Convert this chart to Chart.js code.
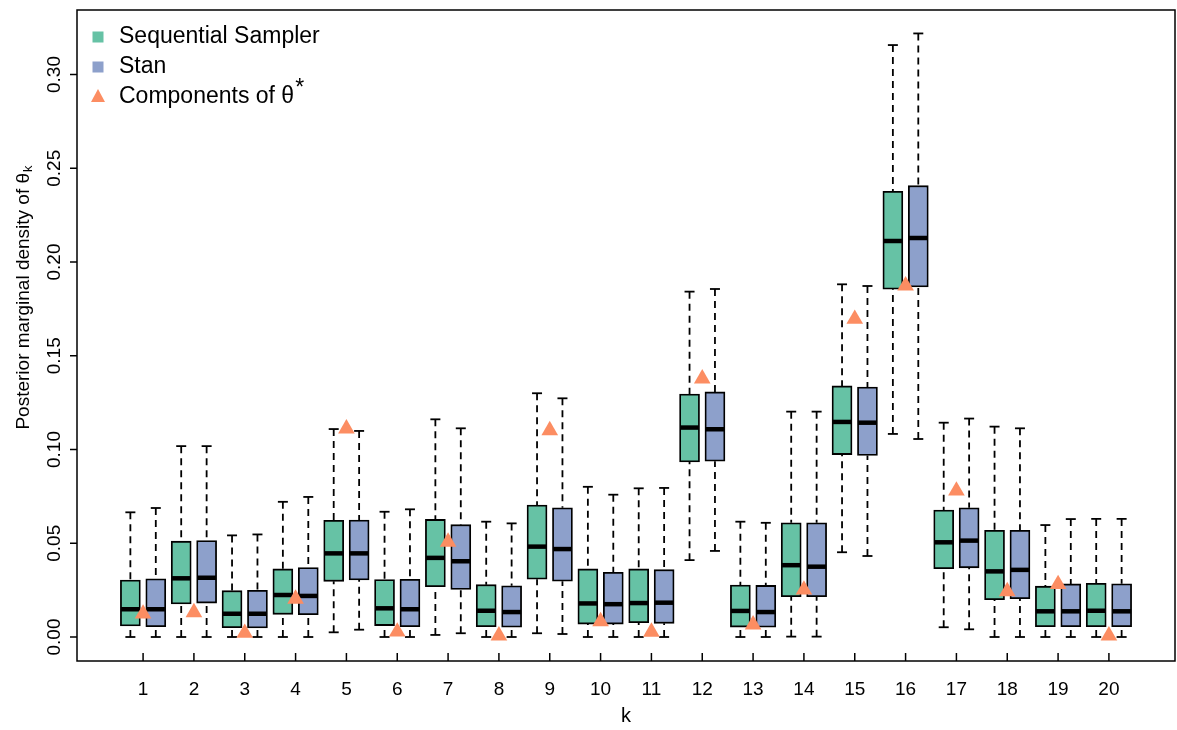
<!DOCTYPE html>
<html>
<head>
<meta charset="utf-8">
<script src="https://cdn.jsdelivr.net/npm/chart.js@4.4.1/dist/chart.umd.min.js"></script>
<style>
  html, body { margin: 0; padding: 0; background: #fff; overflow: hidden; }
  #wrap { width: 1177px; height: 730px; }
  canvas { display: block; }
</style>
</head>
<body>
<div id="wrap"><canvas id="chart" width="1177" height="730"></canvas></div>
<script>
// k = 1..20
const kValues = [1, 2, 3, 4, 5, 6, 7, 8, 9, 10, 11, 12, 13, 14, 15, 16, 17, 18, 19, 20];
const yTicks = [0, 0.05, 0.1, 0.15, 0.2, 0.25, 0.3];

// Sequential Sampler box stats
const seqLow  = [0, 0, 0, 0, 0.0025, 0, 0.0011, 0, 0.002, 0, 0, 0.041, 0, 0.0002, 0.0452, 0.1083, 0.0052, 0, 0, 0];
const seqQ1   = [0.0059, 0.0176, 0.005, 0.0121, 0.0297, 0.0061, 0.0268, 0.0055, 0.0308, 0.0069, 0.0076, 0.0934, 0.0053, 0.0215, 0.0973, 0.1855, 0.0364, 0.0199, 0.0055, 0.0055];
const seqMed  = [0.0148, 0.0313, 0.0124, 0.0224, 0.0446, 0.0153, 0.0422, 0.014, 0.0482, 0.0179, 0.0181, 0.1117, 0.0139, 0.0383, 0.1147, 0.2112, 0.0505, 0.035, 0.0137, 0.014];
const seqQ3   = [0.0304, 0.0511, 0.0247, 0.0363, 0.0622, 0.0306, 0.0627, 0.0279, 0.0704, 0.0363, 0.0363, 0.1296, 0.0277, 0.0609, 0.1339, 0.2377, 0.0677, 0.0569, 0.0271, 0.0286];
const seqHigh = [0.0665, 0.1018, 0.0542, 0.0721, 0.1109, 0.0668, 0.1161, 0.0615, 0.13, 0.0801, 0.0793, 0.1842, 0.0615, 0.1202, 0.1881, 0.3157, 0.1143, 0.1122, 0.0597, 0.063];

// Stan box stats
const stanLow  = [0, 0, 0, 0, 0.0039, 0, 0.002, 0, 0.0016, 0, 0, 0.0459, 0, 0.0002, 0.0432, 0.1056, 0.0041, 0, 0, 0];
const stanQ1   = [0.0055, 0.0181, 0.0048, 0.0119, 0.0304, 0.0055, 0.0254, 0.0052, 0.0298, 0.0069, 0.0073, 0.0938, 0.0052, 0.0215, 0.0968, 0.1867, 0.0369, 0.0204, 0.0055, 0.0055];
const stanMed  = [0.0148, 0.0316, 0.0124, 0.0219, 0.0446, 0.0148, 0.0404, 0.0133, 0.0469, 0.0175, 0.0183, 0.1108, 0.0133, 0.0375, 0.1143, 0.2128, 0.0514, 0.0358, 0.0137, 0.0137];
const stanQ3   = [0.031, 0.0514, 0.0249, 0.037, 0.0624, 0.0308, 0.0599, 0.0273, 0.0689, 0.0345, 0.0359, 0.1307, 0.0275, 0.0609, 0.1333, 0.2407, 0.0689, 0.0569, 0.0283, 0.0284];
const stanHigh = [0.0688, 0.1018, 0.0547, 0.0747, 0.1099, 0.0681, 0.1113, 0.0606, 0.1273, 0.0759, 0.0795, 0.1856, 0.0609, 0.1202, 0.1872, 0.3219, 0.1165, 0.1113, 0.0629, 0.063];

// true components theta*
const thetaStar = [0.0124, 0.0131, 0.0021, 0.0203, 0.1111, 0.0028, 0.0507, 0.0007, 0.1102, 0.0083, 0.0027, 0.1378, 0.0066, 0.0252, 0.1696, 0.1874, 0.078, 0.0243, 0.0281, 0.0007];

const GREEN = "#66C2A5";
const BLUE = "#8DA0CB";
const ORANGE = "#FC8D62";
const FONT = "'Liberation Sans', Arial, sans-serif";
const OFFSET = 0.25;

const series = [
  { label: "Sequential Sampler", color: GREEN, shift: -OFFSET, low: seqLow, q1: seqQ1, med: seqMed, q3: seqQ3, high: seqHigh },
  { label: "Stan", color: BLUE, shift: OFFSET, low: stanLow, q1: stanQ1, med: stanMed, q3: stanQ3, high: stanHigh },
];

// whiskers + caps (under the boxes), medians on top of each box dataset
const boxExtras = {
  id: "boxExtras",
  beforeDatasetsDraw(chart) {
    const { ctx, scales: { x, y } } = chart;
    ctx.save();
    ctx.strokeStyle = "#000";
    ctx.lineWidth = 1.8;
    series.forEach((s) => {
      kValues.forEach((k, i) => {
        const px = x.getPixelForValue(k + s.shift);
        const segs = [[s.q3[i], s.high[i]], [s.q1[i], s.low[i]]];
        segs.forEach(([from, to]) => {
          ctx.setLineDash([7, 5]);
          ctx.beginPath();
          ctx.moveTo(px, y.getPixelForValue(to));
          ctx.lineTo(px, y.getPixelForValue(from));
          ctx.stroke();
          ctx.setLineDash([]);
          ctx.beginPath();
          ctx.moveTo(px - 5, y.getPixelForValue(to));
          ctx.lineTo(px + 5, y.getPixelForValue(to));
          ctx.stroke();
        });
      });
    });
    ctx.restore();
  },
  afterDatasetDraw(chart, args) {
    const s = series[args.index];
    if (!s) return;
    const { ctx, scales: { x, y } } = chart;
    ctx.save();
    ctx.strokeStyle = "#000";
    ctx.lineWidth = 4.5;
    kValues.forEach((k, i) => {
      const px = x.getPixelForValue(k + s.shift);
      const py = y.getPixelForValue(s.med[i]);
      ctx.beginPath();
      ctx.moveTo(px - 9.5, py);
      ctx.lineTo(px + 9.5, py);
      ctx.stroke();
    });
    ctx.restore();
  },
};

// R-style frame, axes, labels and legend
const rAxes = {
  id: "rAxes",
  afterDraw(chart) {
    const { ctx, chartArea: a, scales: { x, y } } = chart;
    ctx.save();
    ctx.strokeStyle = "#000";
    ctx.fillStyle = "#000";
    ctx.lineWidth = 1.5;
    ctx.strokeRect(a.left, a.top, a.right - a.left, a.bottom - a.top);

    // y ticks, outward, labels rotated
    ctx.font = "19px " + FONT;
    ctx.textAlign = "center";
    ctx.textBaseline = "middle";
    yTicks.forEach((v) => {
      const py = y.getPixelForValue(v);
      ctx.beginPath();
      ctx.moveTo(a.left, py);
      ctx.lineTo(a.left - 7, py);
      ctx.stroke();
      ctx.save();
      ctx.translate(55, py);
      ctx.rotate(-Math.PI / 2);
      ctx.fillText(v.toFixed(2), 0, 0);
      ctx.restore();
    });

    // x ticks, pointing into the plot
    kValues.forEach((k) => {
      const px = x.getPixelForValue(k);
      ctx.beginPath();
      ctx.moveTo(px, a.bottom);
      ctx.lineTo(px, a.bottom - 8);
      ctx.stroke();
      ctx.fillText(String(k), px, 690);
    });

    // axis titles
    ctx.font = "20px " + FONT;
    ctx.fillText("k", (a.left + a.right) / 2, 716);

    ctx.save();
    ctx.translate(29, 298);
    ctx.rotate(-Math.PI / 2);
    ctx.textBaseline = "alphabetic";
    const main = "Posterior marginal density of θ";
    ctx.font = "19px " + FONT;
    const w1 = ctx.measureText(main).width;
    ctx.font = "13px " + FONT;
    const w2 = ctx.measureText("k").width;
    ctx.font = "19px " + FONT;
    ctx.textAlign = "left";
    ctx.fillText(main, -(w1 + w2) / 2, 0);
    ctx.font = "13px " + FONT;
    ctx.fillText("k", -(w1 + w2) / 2 + w1 + 1, 3);
    ctx.restore();

    // legend
    ctx.textAlign = "left";
    ctx.font = "23px " + FONT;
    const lx = 98;
    const rows = [37, 67, 97];
    series.forEach((s, i) => {
      ctx.fillStyle = s.color;
      ctx.fillRect(lx - 5.5, rows[i] - 5.5, 11, 11);
      ctx.fillStyle = "#000";
      ctx.fillText(s.label, 119, rows[i]);
    });
    ctx.fillStyle = ORANGE;
    ctx.beginPath();
    ctx.moveTo(lx, rows[2] - 8);
    ctx.lineTo(lx + 7, rows[2] + 5);
    ctx.lineTo(lx - 7, rows[2] + 5);
    ctx.closePath();
    ctx.fill();
    ctx.fillStyle = "#000";
    const compText = "Components of θ";
    ctx.fillText(compText, 119, rows[2]);
    const cw = ctx.measureText(compText).width;
    ctx.fillText("*", 119 + cw + 1, rows[2] - 8);
    ctx.restore();
  },
};

window.onload = () => {
  const ctx = document.getElementById("chart");

  const boxSets = series.map((s) => ({
    type: "bar",
    label: s.label,
    data: kValues.map((k, i) => ({ x: k + s.shift, y: [s.q1[i], s.q3[i]] })),
    backgroundColor: s.color,
    borderColor: "#000",
    borderWidth: 1.8,
    borderSkipped: false,
    barThickness: 20,
    grouped: false,
    order: 2,
  }));

  new Chart(ctx, {
    type: "bar",
    data: {
      datasets: [
        ...boxSets,
        {
          type: "scatter",
          label: "Components of θ*",
          data: kValues.map((k, i) => ({ x: k, y: thetaStar[i] })),
          pointStyle: "triangle",
          pointRadius: 9.6,
          pointHoverRadius: 9.6,
          backgroundColor: ORANGE,
          borderColor: ORANGE,
          borderWidth: 0,
          order: 1,
        },
      ],
    },
    options: {
      responsive: false,
      animation: false,
      devicePixelRatio: 1,
      layout: { autoPadding: false, padding: { left: 77, right: 2, top: 10, bottom: 69 } },
      scales: {
        x: { type: "linear", min: -0.3, max: 21.3, offset: false, display: false },
        y: { type: "linear", min: -0.0128, max: 0.3344, display: false },
      },
      plugins: {
        legend: { display: false },
        tooltip: { enabled: false },
      },
    },
    plugins: [boxExtras, rAxes],
  });
};
</script>
</body>
</html>
